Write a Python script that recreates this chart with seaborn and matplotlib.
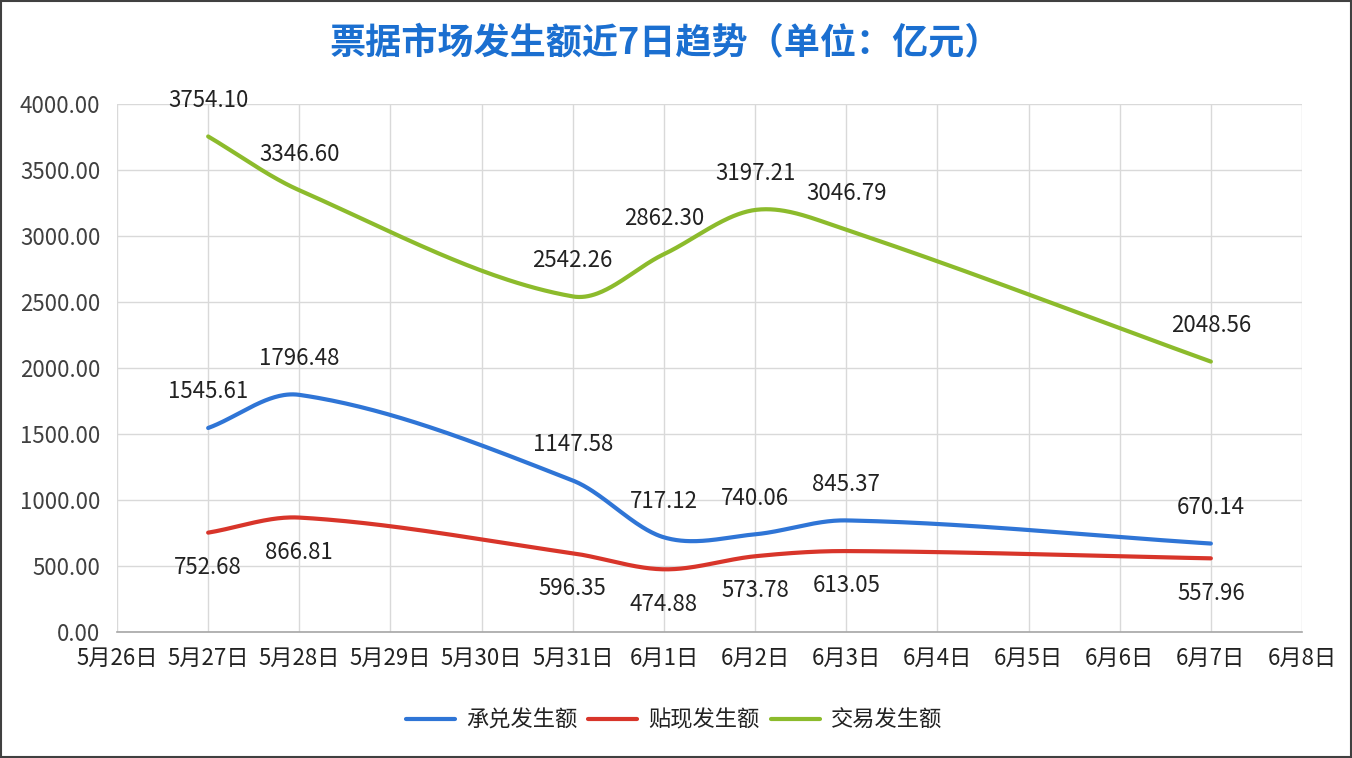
import numpy as np
import pandas as pd
import matplotlib
matplotlib.use("Agg")
import matplotlib.pyplot as plt
import seaborn as sns

# ---------------- data ----------------
tick_labels = ["5月26日", "5月27日", "5月28日", "5月29日", "5月30日", "5月31日", "6月1日",
               "6月2日", "6月3日", "6月4日", "6月5日", "6月6日", "6月7日", "6月8日"]
dates = ["5月27日", "5月28日", "5月31日", "6月1日", "6月2日", "6月3日", "6月7日"]
accept = [1545.61, 1796.48, 1147.58, 717.12, 740.06, 845.37, 670.14]      # 承兑发生额
discount = [752.68, 866.81, 596.35, 474.88, 573.78, 613.05, 557.96]       # 贴现发生额
trade = [3754.10, 3346.60, 2542.26, 2862.30, 3197.21, 3046.79, 2048.56]   # 交易发生额
series_names = ["承兑发生额", "贴现发生额", "交易发生额"]
y_ticks = [0, 500, 1000, 1500, 2000, 2500, 3000, 3500, 4000]
title = "票据市场发生额近7日趋势（单位：亿元）"

colors = ["#2f75d6", "#d8352a", "#8cbb2c"]

sns.set_theme(style="white")
plt.rcParams['font.family'] = ['Noto Sans CJK SC', 'DejaVu Sans']


def smooth(xs, ys, n=60):
    """Cubic Hermite (Catmull-Rom in x) smoothing through the data points."""
    x = np.asarray(xs, float)
    y = np.asarray(ys, float)
    m = np.empty_like(y)
    m[1:-1] = (y[2:] - y[:-2]) / (x[2:] - x[:-2])
    m[0] = (y[1] - y[0]) / (x[1] - x[0])
    m[-1] = (y[-1] - y[-2]) / (x[-1] - x[-2])
    ox, oy = [], []
    for i in range(len(x) - 1):
        h = x[i + 1] - x[i]
        t = np.linspace(0, 1, n)
        if i > 0:
            t = t[1:]
        h00 = 2 * t ** 3 - 3 * t ** 2 + 1
        h10 = t ** 3 - 2 * t ** 2 + t
        h01 = -2 * t ** 3 + 3 * t ** 2
        h11 = t ** 3 - t ** 2
        ox.append(x[i] + t * h)
        oy.append(h00 * y[i] + h10 * h * m[i] + h01 * y[i + 1] + h11 * h * m[i + 1])
    return np.concatenate(ox), np.concatenate(oy)


fig = plt.figure(figsize=(13.52, 7.58), dpi=100)
ax = fig.add_axes([117 / 1352, 1 - 632 / 758, (1302 - 117) / 1352, (632 - 104) / 758])

xpos = [tick_labels.index(d) for d in dates]
all_series = [accept, discount, trade]
for name, vals, c in zip(series_names, all_series, colors):
    sx, sy = smooth(xpos, vals)
    df = pd.DataFrame({"x": sx, "y": sy})
    sns.lineplot(data=df, x="x", y="y", sort=False, color=c, lw=3, label=name, ax=ax)

# data labels
offsets = [26, -25, 26]
for vals, off in zip(all_series, offsets):
    for x, v in zip(xpos, vals):
        ax.annotate(f"{v:.2f}", (x, v), xytext=(0, off), textcoords="offset points",
                    ha="center", va="center", fontsize=16, color="#222222")

ax.set_xlim(0, len(tick_labels) - 1)
ax.set_ylim(0, 4000)
ax.set_xticks(range(len(tick_labels)))
ax.set_xticklabels(tick_labels)
ax.set_yticks(y_ticks)
ax.set_yticklabels([f"{v:.2f}" for v in y_ticks])
ax.tick_params(axis="x", length=0, pad=11, labelsize=16, labelcolor="#222222")
ax.tick_params(axis="y", length=0, pad=12, labelsize=16, labelcolor="#404040")
ax.set_xlabel("")
ax.set_ylabel("")
ax.grid(True, color="#d9d9d9", lw=1)
for s in ["top", "right", "left"]:
    ax.spines[s].set_visible(False)
ax.spines["bottom"].set_color("#a6a6a6")
ax.spines["bottom"].set_linewidth(1.2)

leg = ax.legend(loc="center", bbox_to_anchor=(674 / 1352, 1 - 720 / 758),
                bbox_transform=fig.transFigure, ncol=3, frameon=False,
                fontsize=16, handlelength=2.2, columnspacing=0.5, handletextpad=0.5)
for t in leg.get_texts():
    t.set_color("#222222")

fig.text(665 / 1352, 1 - 43 / 758, title, ha="center", va="center", fontsize=26,
         fontweight="bold", color="#1b6fd0")

# figure border
fig.patches.append(plt.Rectangle((0.001, 0.001), 0.998, 0.998, transform=fig.transFigure,
                                 fill=False, edgecolor="#404040", lw=1.5))

fig.savefig("out.png", dpi=100)
